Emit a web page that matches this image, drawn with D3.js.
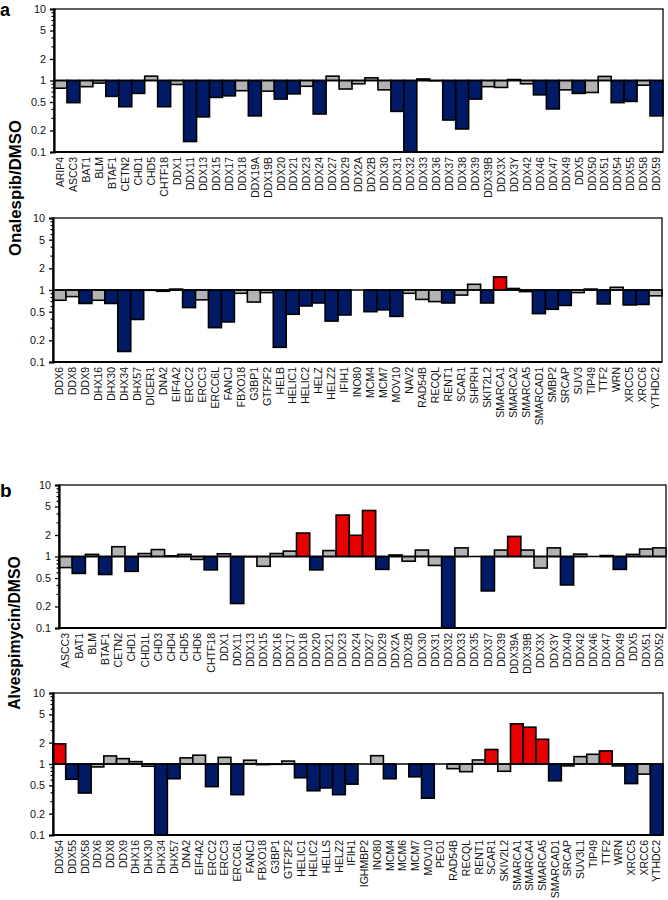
<!DOCTYPE html>
<html><head><meta charset="utf-8">
<script src="https://cdn.jsdelivr.net/npm/d3@7"></script>
<style>body{margin:0;background:#fff} svg{display:block;font-family:Arial,"Liberation Sans",sans-serif}</style>
</head><body><svg id="c" width="668" height="900"></svg>
<script>
// ---------- DATA ----------
const onaTopCats = ["ARIP4","ASCC3","BAT1","BLM","BTAF1","CETN2","CHD1","CHD5","CHTF18","DDX1","DDX11","DDX13","DDX15","DDX17","DDX18","DDX19A","DDX19B","DDX20","DDX21","DDX23","DDX24","DDX27","DDX29","DDX2A","DDX2B","DDX30","DDX31","DDX32","DDX33","DDX36","DDX37","DDX38","DDX39","DDX39B","DDX3X","DDX3Y","DDX42","DDX46","DDX47","DDX49","DDX5","DDX50","DDX51","DDX54","DDX55","DDX58","DDX59"];
const onaTopVals = [0.78,0.49,0.82,0.92,0.60,0.43,0.66,1.15,0.43,0.88,0.14,0.31,0.58,0.61,0.72,0.32,0.71,0.55,0.65,0.83,0.34,1.15,0.76,0.90,1.09,0.74,0.37,0.1,1.05,0.99,0.28,0.21,0.55,0.82,0.80,1.03,0.90,0.63,0.40,0.74,0.66,0.68,1.14,0.49,0.51,0.86,0.32];

const onaBotCats = ["DDX6","DDX8","DDX9","DHX16","DHX30","DHX34","DHX57","DICER1","DNA2","EIF4A2","ERCC2","ERCC3","ERCC6L","FANCJ","FBXO18","G3BP1","GTF2F2","HELB","HELIC1","HELIC2","HELZ","HELZ2","IFIH1","INO80","MCM4","MCM7","MOV10","NAV2","RAD54B","RECQL","RENT1","SCAR1","SHPRH","SKIT2L2","SMARCA1","SMARCA2","SMARCA5","SMARCAD1","SMBP2","SRCAP","SUV3","TIP49","TTF2","WRN","XRCC5","XRCC6","YTHDC2"];
const onaBotVals = [0.72,0.81,0.65,0.72,0.65,0.14,0.39,0.99,0.96,1.03,0.57,0.73,0.30,0.36,0.90,0.68,0.92,0.16,0.46,0.60,0.66,0.37,0.45,1.0,0.50,0.53,0.43,0.90,0.74,0.69,0.66,0.85,1.20,0.66,1.52,1.05,0.95,0.47,0.54,0.61,0.92,1.03,0.64,1.09,0.62,0.63,0.83];

const alvTopCats = ["ASCC3","BAT1","BLM","BTAF1","CETN2","CHD1","CHD1L","CHD3","CHD4","CHD5","CHD6","CHTF18","DDX1","DDX11","DDX13","DDX15","DDX16","DDX17","DDX18","DDX20","DDX21","DDX23","DDX24","DDX27","DDX29","DDX2A","DDX2B","DDX30","DDX31","DDX32","DDX33","DDX35","DDX37","DDX39","DDX39A","DDX39B","DDX3X","DDX3Y","DDX40","DDX42","DDX46","DDX47","DDX49","DDX5","DDX51","DDX52"];
const alvTopVals = [0.70,0.58,1.07,0.56,1.37,0.62,1.10,1.25,1.02,1.07,0.91,0.65,1.09,0.22,0.99,0.73,1.10,1.19,2.13,0.65,1.21,3.8,1.98,4.4,0.66,1.05,0.86,1.23,0.75,0.1,1.32,1.0,0.33,1.23,1.91,1.23,0.69,1.32,0.40,1.08,1.0,1.03,0.66,1.07,1.27,1.32];

const alvBotCats = ["DDX54","DDX55","DDX58","DDX6","DDX8","DDX9","DHX16","DHX30","DHX34","DHX57","DNA2","EIF4A2","ERCC2","ERCC3","ERCC6L","FANCJ","FBXO18","G3BP1","GTF2F2","HELIC1","HELIC2","HELLS","HELZ2","IFIH1","IGHMBP2","INO80","MCM4","MCM6","MCM7","MOV10","PEO1","RAD54B","RECQL","RENT1","SCAR1","SKIV2L2","SMARCA1","SMARCA4","SMARCA5","SMARCAD1","SRCAP","SUV3L1","TIP49","TTF2","WRN","XRCC5","XRCC6","YTHDC2"];
const alvBotVals = [1.92,0.61,0.39,0.91,1.30,1.19,1.08,0.93,0.1,0.62,1.22,1.33,0.48,1.24,0.37,1.13,0.98,0.99,1.10,0.64,0.42,0.46,0.37,0.52,1.0,1.31,0.62,1.0,0.66,0.33,1.0,0.86,0.78,1.14,1.6,0.79,3.68,3.30,2.23,0.58,0.94,1.27,1.37,1.53,0.94,0.53,0.72,0.1];

const yTickValues = [0.1,0.2,0.5,1,2,5,10];
const yTickLabels = ["0.1","0.2","0.5","1","2","5","10"];
const yMinorTicks = [0.3,0.4,0.6,0.7,0.8,0.9,3,4,6,7,8,9];
const panelLetters = ["a","b"];
const yTitles = ["Onalespib/DMSO","Alvespimycin/DMSO"];

// ---------- STYLE / LAYOUT ----------
const NAVY = "#001a66", RED = "#e60000", GRAY = "#b3b3b3";
const colorOf = v => v < 0.67 ? NAVY : (v > 1.5 ? RED : GRAY);

const svg = d3.select("#c");

const panels = [
  {cats: onaTopCats, vals: onaTopVals, left: 54, right: 663, top: 9,   bottom: 152},
  {cats: onaBotCats, vals: onaBotVals, left: 53, right: 662, top: 218, bottom: 362},
  {cats: alvTopCats, vals: alvTopVals, left: 59, right: 666, top: 485, bottom: 628},
  {cats: alvBotCats, vals: alvBotVals, left: 53, right: 663, top: 693, bottom: 835}
];

panels.forEach(p => {
  const g = svg.append("g");
  const x = d3.scaleBand().domain(p.cats).range([p.left, p.right]).padding(0);
  const y = d3.scaleLog().domain([0.1, 10]).range([p.bottom, p.top]);
  const y1 = y(1);

  g.append("rect").attr("x", p.left).attr("y", p.top)
    .attr("width", p.right - p.left).attr("height", p.bottom - p.top)
    .attr("fill", "none").attr("stroke", "#1a1a1a").attr("stroke-width", 1.4);

  g.selectAll("rect.bar").data(p.cats.map((c, i) => ({c, v: p.vals[i]})))
    .join("rect").attr("class", "bar")
    .attr("x", d => x(d.c))
    .attr("width", x.bandwidth())
    .attr("y", d => Math.min(y(Math.max(d.v, 0.1)), y1))
    .attr("height", d => Math.abs(y(Math.max(d.v, 0.1)) - y1))
    .attr("fill", d => colorOf(d.v))
    .attr("stroke", "#000").attr("stroke-width", 1.6);

  g.append("line").attr("x1", p.left).attr("x2", p.right)
    .attr("y1", y1).attr("y2", y1).attr("stroke", "#000").attr("stroke-width", 1.7);

  const ax = g.append("g").attr("transform", `translate(${p.left},0)`)
    .call(d3.axisLeft(y).tickValues(yTickValues)
      .tickFormat((d, i) => yTickLabels[i]).tickSize(4).tickPadding(4));
  ax.select(".domain").attr("stroke", "#000").attr("stroke-width", 2.2);
  ax.selectAll(".tick line").attr("stroke", "#000").attr("stroke-width", 1.3);
  ax.selectAll("text").attr("font-size", "10.8px").attr("fill", "#111")
    .attr("font-family", "Arial, 'Liberation Sans', sans-serif");

  const mx = g.append("g").attr("transform", `translate(${p.left},0)`)
    .call(d3.axisLeft(y).tickValues(yMinorTicks).tickFormat("").tickSize(2.5));
  mx.select(".domain").remove();
  mx.selectAll(".tick line").attr("stroke", "#000").attr("stroke-width", 1.2);

  g.append("line").attr("x1", p.left - 1).attr("x2", p.right)
    .attr("y1", p.bottom).attr("y2", p.bottom).attr("stroke", "#000").attr("stroke-width", 2.2);

  g.selectAll("text.xl").data(p.cats).join("text").attr("class", "xl")
    .attr("transform", d => `translate(${x(d) + x.bandwidth() / 2},${p.bottom + 5}) rotate(-90)`)
    .attr("text-anchor", "end").attr("dy", "0.36em")
    .attr("font-size", "10.5px").attr("fill", "#111")
    .text(d => d);
});

svg.append("text").attr("x", 0).attr("y", 16).attr("font-size", "18px")
  .attr("font-weight", "bold").text(panelLetters[0]);
svg.append("text").attr("x", 0).attr("y", 497).attr("font-size", "19px")
  .attr("font-weight", "bold").text(panelLetters[1]);

svg.append("text").attr("transform", "translate(21,188) rotate(-90)")
  .attr("text-anchor", "middle").attr("font-size", "16.8px").attr("font-weight", "bold")
  .text(yTitles[0]);
svg.append("text").attr("transform", "translate(20,633) rotate(-90)")
  .attr("text-anchor", "middle").attr("font-size", "15.8px").attr("font-weight", "bold")
  .text(yTitles[1]);
</script></body></html>
